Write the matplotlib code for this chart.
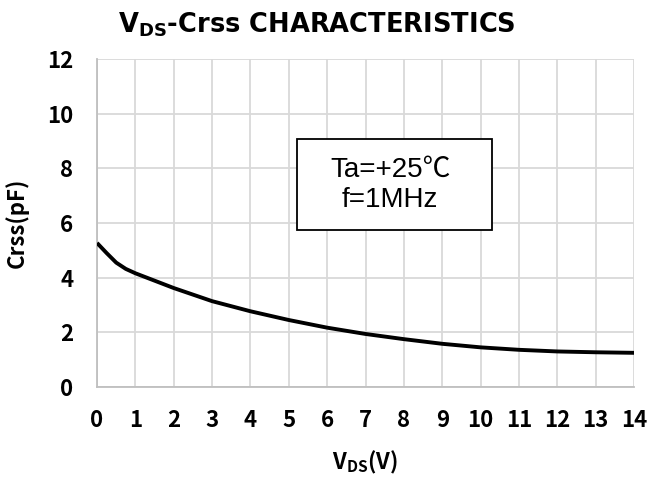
import matplotlib
matplotlib.use("Agg")
import matplotlib.pyplot as plt
from matplotlib.patches import Rectangle

# Reverse transfer capacitance vs drain-source voltage
vds = [0, 0.25, 0.5, 0.75, 1, 2, 3, 4, 5, 6, 7, 8, 9, 10, 11, 12, 13, 14]
crss = [5.27, 4.90, 4.55, 4.32, 4.16, 3.62, 3.14, 2.77, 2.45, 2.17, 1.94, 1.75, 1.58, 1.45, 1.36, 1.30, 1.27, 1.25]

x_ticks = list(range(0, 15))
y_ticks = [0, 2, 4, 6, 8, 10, 12]

JP = ["Noto Sans CJK JP", "DejaVu Sans"]
LAT = ["Liberation Sans", "Noto Sans CJK JP", "DejaVu Sans"]

fig = plt.figure(figsize=(6.49, 4.78), dpi=100)
ax = fig.add_axes([0.1495, 0.1904, 0.8275, 0.6862])

ax.plot(vds, crss, color="black", linewidth=2.8, solid_capstyle="butt",
        solid_joinstyle="round", zorder=3)

ax.set_xlim(0, 14)
ax.set_ylim(0, 12)
ax.set_xticks(x_ticks)
ax.set_yticks(y_ticks)
ax.grid(True, color="#d9d9d9", linewidth=1.3)
ax.set_axisbelow(True)
for side in ("top", "right"):
    ax.spines[side].set_visible(False)
for side in ("left", "bottom"):
    ax.spines[side].set_color("#bfbfbf")
    ax.spines[side].set_linewidth(1.3)
ax.tick_params(axis="x", length=0, pad=16)
ax.tick_params(axis="y", length=0, pad=17)
for lab in ax.get_xticklabels() + ax.get_yticklabels():
    lab.set_fontfamily(JP)
    lab.set_fontweight("bold")
    lab.set_fontsize(16)

ax.set_ylabel("Crss(pF)", fontfamily=JP, fontweight="bold", fontsize=16, labelpad=13)
ax.set_xlabel(r"V$_\mathregular{DS}$(V)", fontfamily=JP, fontweight="bold", fontsize=16, labelpad=12)

fig.text(0.488, 0.948, r"V$_\mathregular{DS}$-Crss CHARACTERISTICS", ha="center", va="center",
         fontfamily=["DejaVu Sans"], fontweight="bold", fontsize=18.5)

# Condition box
ax.add_patch(Rectangle((5.21, 5.74), 5.09, 3.33, facecolor="white", edgecolor="black",
                       linewidth=1.3, zorder=4))
ax.text(7.64, 7.40, "Ta=+25℃\nf=1MHz", ha="center", va="center", fontfamily=LAT,
        fontsize=20, linespacing=1.2, zorder=5)

fig.savefig("out.png", dpi=100)
